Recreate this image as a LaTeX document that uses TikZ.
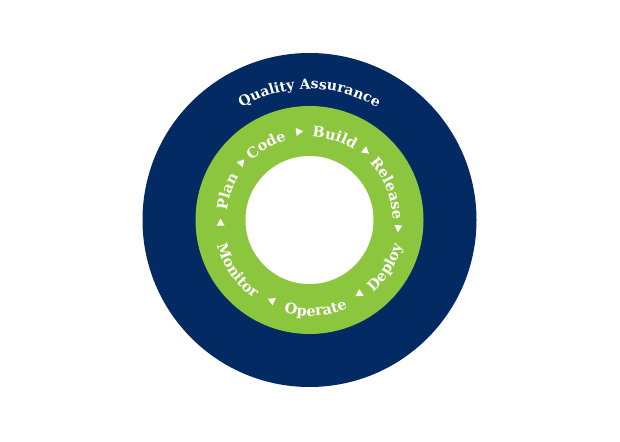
\documentclass[tikz,border=0pt]{standalone}
\usepackage{fontspec}
\setmainfont{DejaVu Serif}
\usetikzlibrary{decorations.text}
\definecolor{navy}{HTML}{032A62}
\definecolor{lgreen}{HTML}{8CC63F}
\newcommand\toplabel[3]{%
  \path[shift={(c)},decorate,decoration={text along path,text align=center,text color=white,
    text={|\fontsize{#3}{#3}\selectfont\bfseries|#2}}]
    ({#1+50}:83) arc[start angle={#1+50},end angle={#1-50},radius=83];}
\newcommand\botlabel[3]{%
  \path[shift={(c)},decorate,decoration={text along path,text align=center,text color=white,
    text={|\fontsize{#3}{#3}\selectfont\bfseries|#2}}]
    ({#1-50}:96) arc[start angle={#1-50},end angle={#1+50},radius=96];}
\newcommand\ringarrow[1]{%
  \fill[white,shift={(c)},rotate=#1] (89,-4.5) -- (85,2.5) -- (93,2.5) -- cycle;}
\begin{document}
\begin{tikzpicture}[x=1pt,y=1pt]
\useasboundingbox (0,0) rectangle (620,441);
\fill[white] (0,0) rectangle (620,441);
\coordinate (c) at (309.5,221);
\fill[navy] (c) circle (167);
\fill[lgreen] (c) circle (114);
\fill[white] (c) circle (64);
% Quality Assurance
\path[shift={(c)},decorate,decoration={text along path,text align=center,text color=white,
  text={|\fontsize{14}{14}\selectfont\bfseries|Quality Assurance}}]
  (150:131) arc[start angle=150,end angle=30,radius=131];
\toplabel{161}{Plan}{14.5}
\toplabel{120}{Code}{14.5}
\toplabel{73}{Build}{14.5}
\toplabel{22}{Release}{14.5}
\botlabel{-32}{Deploy}{14.5}
\botlabel{-86}{Operate}{14.5}
\botlabel{-145}{Monitor}{14.5}
\ringarrow{140}
\ringarrow{97}
\ringarrow{51}
\ringarrow{-5}
\ringarrow{-56}
\ringarrow{-115}
\ringarrow{182}
\end{tikzpicture}
\end{document}
